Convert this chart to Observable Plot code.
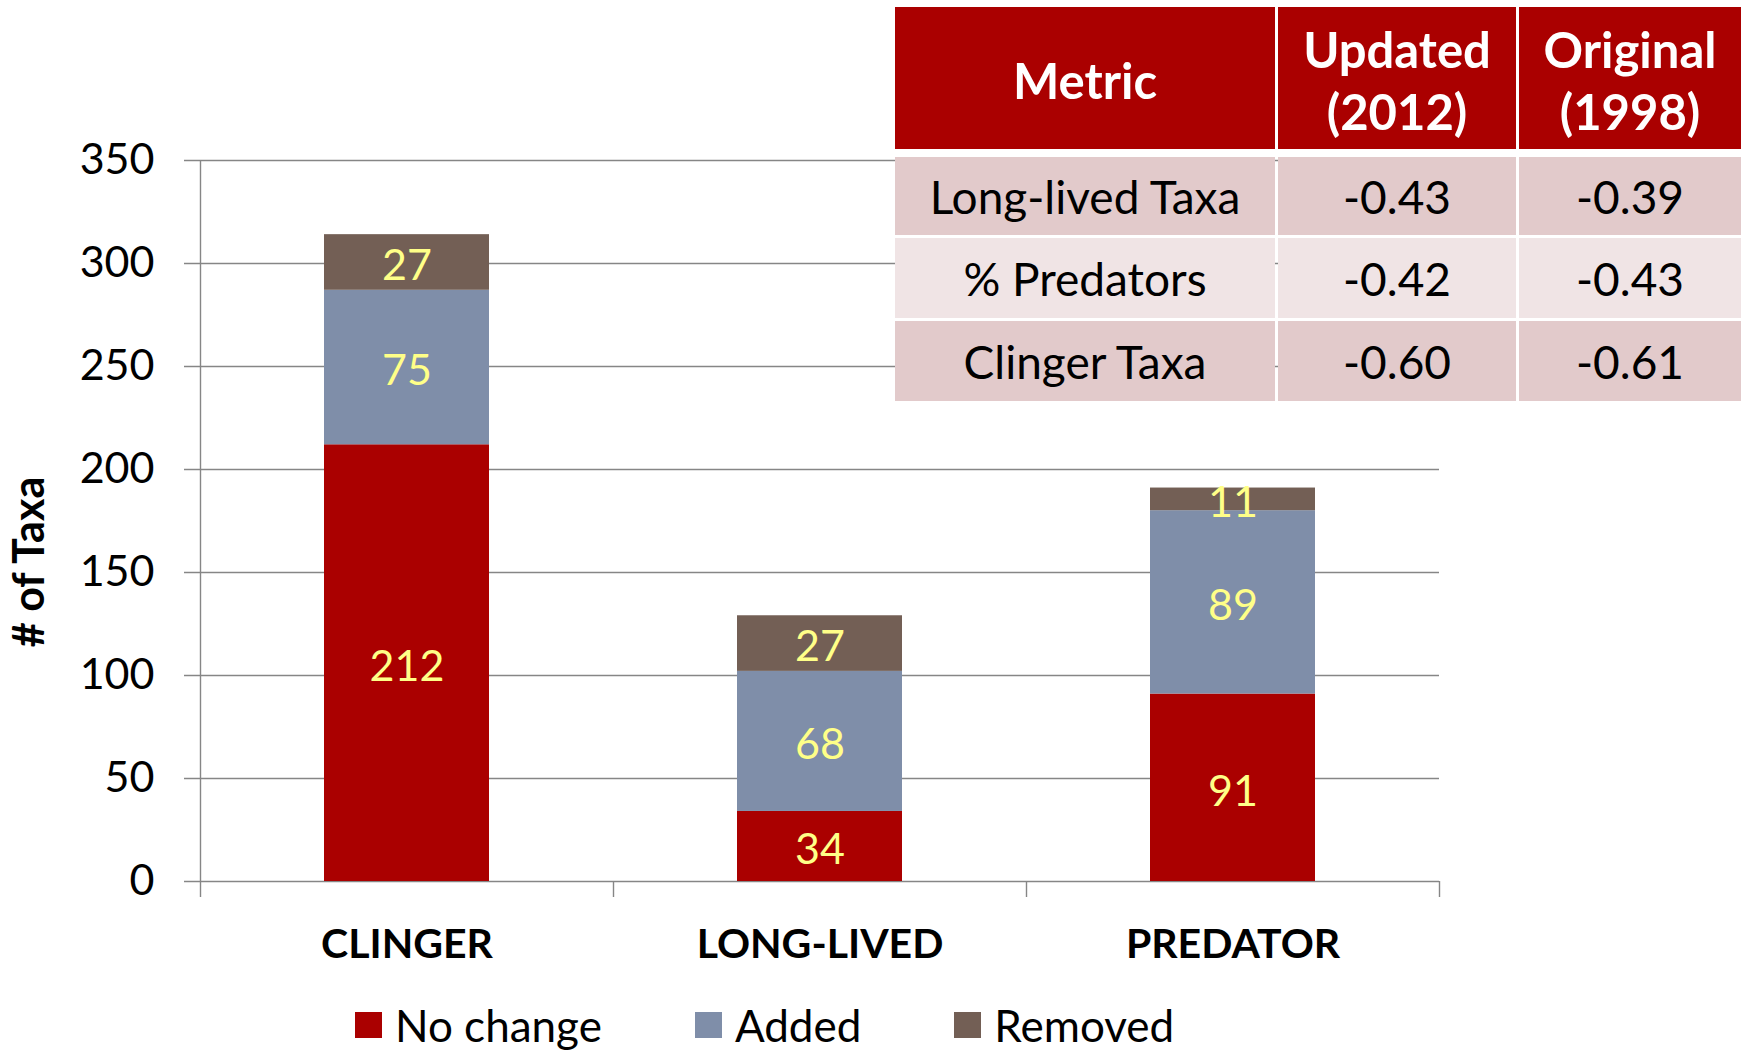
<!DOCTYPE html>
<html><head><meta charset="utf-8">
<script src="https://cdn.jsdelivr.net/npm/d3@7"></script>
<script src="https://cdn.jsdelivr.net/npm/@observablehq/plot@0.6"></script>
<style>
body{margin:0;background:#fff;font-family:Lato,"Open Sans",sans-serif;}
#wrap{position:relative;width:1749px;height:1052px;overflow:hidden;}
#wrap svg{position:absolute;left:0;top:0;}
#tbl{position:absolute;left:895px;top:7px;display:grid;grid-template-columns:380px 238px 222px;grid-template-rows:142px 2px 78px 80px 80px;gap:3px;}
#tbl div.c{display:flex;align-items:center;justify-content:center;text-align:center;font-size:46px;color:#000;}
#tbl div.h{background:#AA0000;color:#fff;font-weight:bold;font-size:49px;line-height:62px;padding-top:4px;box-sizing:border-box;}
#tbl div.r0{background:#E2CACB;}
#tbl div.r1{background:#F0E4E5;}
#legend{position:absolute;left:355px;top:1000px;height:50px;display:flex;align-items:center;font-size:44px;}
#legend .it{display:flex;align-items:center;margin-right:93px;}
#legend .sw{width:27px;height:26px;margin-right:13px;}
</style></head><body><div id="wrap"><div id="tbl"></div><div id="legend"></div></div>
<script>
const categories = ["CLINGER", "LONG-LIVED", "PREDATOR"];
const series = ["No change", "Added", "Removed"];
const noChange = [212, 34, 91];
const added = [75, 68, 89];
const removed = [27, 27, 11];
const yTicks = [0, 50, 100, 150, 200, 250, 300, 350];
const seriesColors = ["#AA0000", "#7F8EA9", "#735F55"];
const yLabel = "# of Taxa";

const tableHeader = ["Metric", "Updated\n(2012)", "Original\n(1998)"];
const metrics = ["Long-lived Taxa", "% Predators", "Clinger Taxa"];
const updated2012 = ["-0.43", "-0.42", "-0.60"];
const original1998 = ["-0.39", "-0.43", "-0.61"];

const rows = [];
[noChange, added, removed].forEach((vals, j) => {
  categories.forEach((c, i) => rows.push({cat: c, series: series[j], value: vals[i]}));
});

const W = 1749, H = 1000, mL = 200, mR = 310, mT = 160, mB = 119;
const step = (W - mL - mR) / categories.length;
const axisGray = "#868686";

const chart = Plot.plot({
  width: W, height: H,
  marginLeft: mL, marginRight: mR, marginTop: mT, marginBottom: mB,
  style: {fontFamily: "Lato, 'Open Sans', sans-serif", background: "transparent", color: "#000"},
  x: {domain: categories, paddingInner: 0.6, paddingOuter: 0.3, axis: null},
  y: {domain: [0, 350], axis: null},
  color: {domain: series, range: seriesColors},
  marks: [
    Plot.ruleY(yTicks, {y: d => d, stroke: axisGray, strokeWidth: 1.4, insetLeft: -16}),
    Plot.ruleX([categories[0]], {x: d => d, dx: -step / 2, y1: 0, y2: 350, stroke: axisGray, strokeWidth: 1.4}),
    Plot.ruleX(categories, {x: d => d, dx: -step / 2, y1: 0, y2: 0, insetBottom: -16, stroke: axisGray, strokeWidth: 1.4}),
    Plot.ruleX([categories[categories.length - 1]], {x: d => d, dx: step / 2, y1: 0, y2: 0, insetBottom: -16, stroke: axisGray, strokeWidth: 1.4}),
    Plot.axisY(yTicks, {tickSize: 0, tickPadding: 46, fontSize: 43, label: null, fill: "#000"}),
    Plot.barY(rows, Plot.stackY({x: "cat", y: "value", fill: "series"})),
    Plot.text(rows, Plot.stackY({x: "cat", y: "value", text: d => String(d.value), fill: "#FFFF88", fontSize: 43, dy: 4})),
    Plot.text(categories, {x: d => d, frameAnchor: "bottom", dy: 76, fontSize: 41, fontWeight: "bold", fill: "#000"}),
    Plot.text([yLabel], {frameAnchor: "left", textAnchor: "middle", dx: -170, dy: 41, rotate: -90, fontSize: 43, fontWeight: "bold", fill: "#000"})
  ]
});
const wrap = document.getElementById("wrap");
wrap.insertBefore(chart, wrap.firstChild);

// table
const tbl = document.getElementById("tbl");
const cell = (txt, cls) => { const d = document.createElement("div"); d.className = "c " + cls; d.innerHTML = txt.replace("\n", "<br>"); tbl.appendChild(d); };
tableHeader.forEach(t => cell(t, "h"));
for (let k = 0; k < 3; k++) { const d = document.createElement("div"); tbl.appendChild(d); }
metrics.forEach((m, i) => {
  const cls = "r" + (i % 2);
  cell(m, cls); cell(updated2012[i], cls); cell(original1998[i], cls);
});

// legend
const legend = document.getElementById("legend");
series.forEach((s, i) => {
  const it = document.createElement("div"); it.className = "it";
  const sw = document.createElement("span"); sw.className = "sw"; sw.style.background = seriesColors[i];
  const tx = document.createElement("span"); tx.textContent = s;
  it.appendChild(sw); it.appendChild(tx); legend.appendChild(it);
});
</script></body></html>
